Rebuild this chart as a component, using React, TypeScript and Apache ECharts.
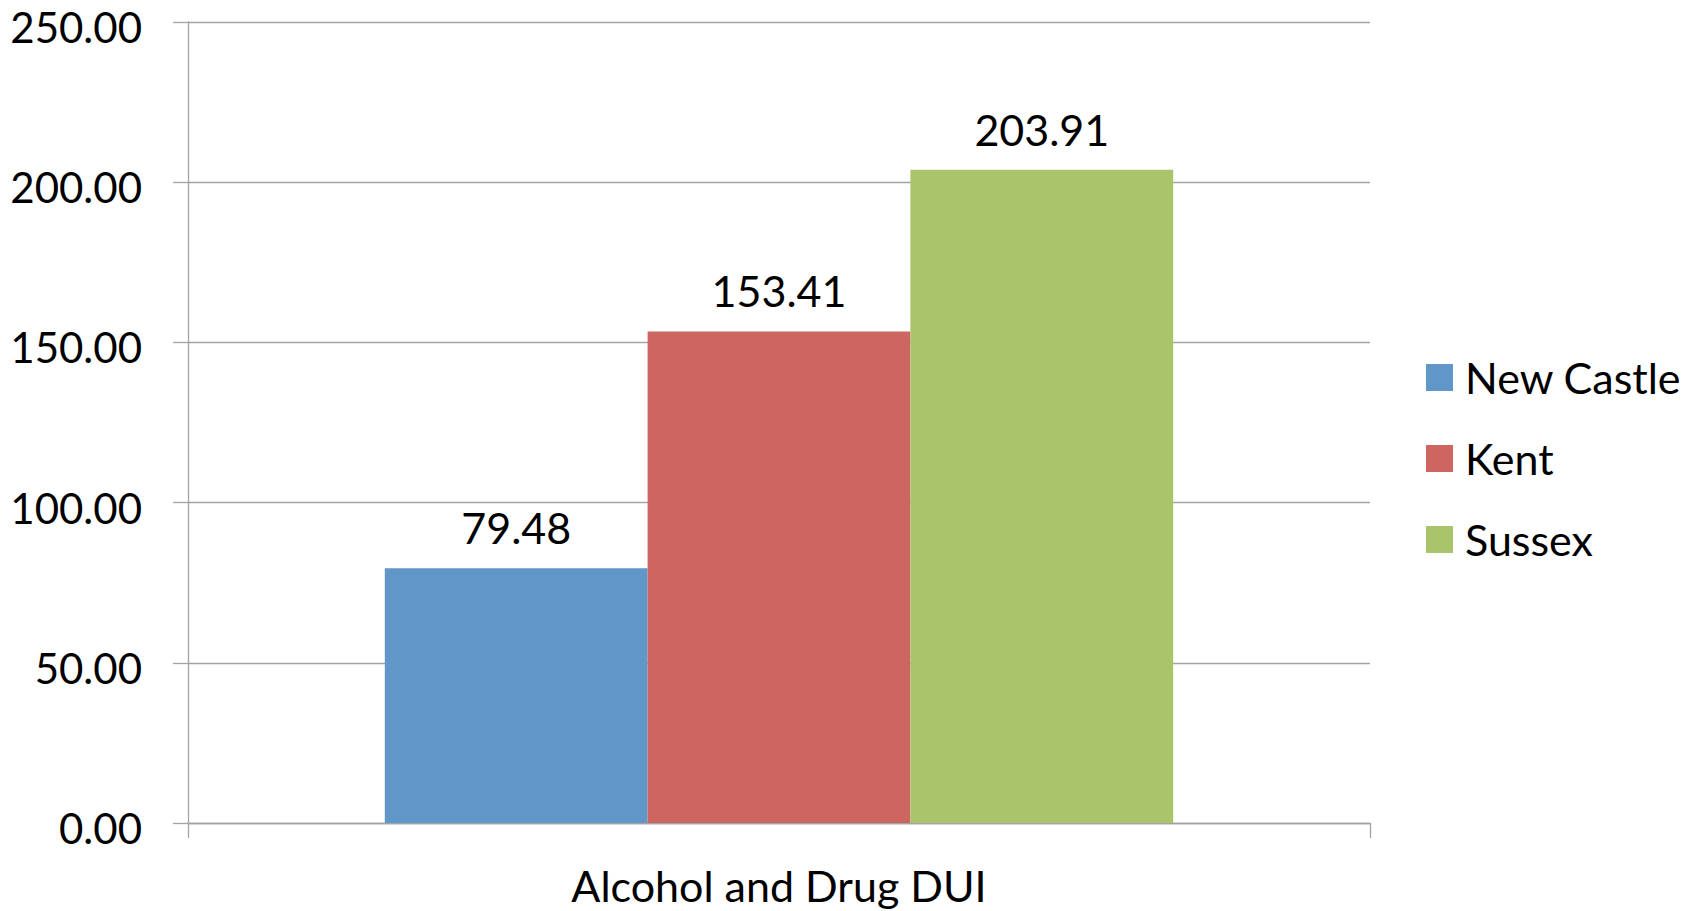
import React, { useEffect, useRef } from "react";
import * as echarts from "echarts";

const categories = ["Alcohol and Drug DUI"];
const seriesNames = ["New Castle", "Kent", "Sussex"];
const newCastle = [79.48];
const kent = [153.41];
const sussex = [203.91];
const seriesColors = ["#6196c9", "#cd6661", "#aac46b"];
const yTicks = { min: 0, max: 250, interval: 50 };

const FONT = "Lato";
const FS = 43;

export default function App() {
  const ref = useRef<HTMLDivElement>(null);
  useEffect(() => {
    if (!ref.current) return;
    const chart = echarts.init(ref.current, undefined, { renderer: "svg" });
    const values = [newCastle, kent, sussex];
    const axisColor = "#a3a3a3";
    chart.setOption({
      animation: false,
      backgroundColor: "#ffffff",
      textStyle: { fontFamily: FONT },
      grid: { left: 188, right: 330, top: 22, bottom: 88, containLabel: false },
      legend: {
        orient: "vertical",
        left: 1421,
        top: 351,
        itemWidth: 27,
        itemHeight: 27,
        itemGap: 38,
        icon: "rect",
        data: seriesNames,
        textStyle: {
          fontFamily: FONT,
          fontSize: FS,
          lineHeight: 41,
          color: "#000",
          padding: [0, 0, 0, 7],
        },
      },
      xAxis: {
        type: "category",
        data: categories,
        axisLine: { show: true, lineStyle: { color: axisColor, width: 1.3 } },
        axisTick: { show: true, length: 15, lineStyle: { color: axisColor, width: 1.3 } },
        axisLabel: { fontFamily: FONT, fontSize: FS, color: "#000", margin: 41 },
      },
      yAxis: {
        type: "value",
        min: yTicks.min,
        max: yTicks.max,
        interval: yTicks.interval,
        axisLine: { show: true, lineStyle: { color: axisColor, width: 1.3 } },
        axisTick: { show: true, length: 15, lineStyle: { color: axisColor, width: 1.3 } },
        splitLine: { show: true, lineStyle: { color: axisColor, width: 1.3 } },
        axisLabel: {
          fontFamily: FONT,
          fontSize: 42,
          color: "#000",
          margin: 46,
          verticalAlign: "top",
          lineHeight: 10,
          formatter: (v: number) => v.toFixed(2),
        },
      },
      series: seriesNames.map((name, i) => ({
        name,
        type: "bar",
        data: values[i],
        barGap: "0%",
        barCategoryGap: "33.3%",
        itemStyle: { color: seriesColors[i] },
        label: {
          show: true,
          position: "top",
          distance: 19,
          fontFamily: FONT,
          fontSize: FS,
          color: "#000",
          formatter: (p: any) => Number(p.value).toFixed(2),
        },
      })),
    });
    return () => chart.dispose();
  }, []);
  return (
    <div
      ref={ref}
      style={{ position: "absolute", left: 0, top: 0, width: 1700, height: 911 }}
    />
  );
}
